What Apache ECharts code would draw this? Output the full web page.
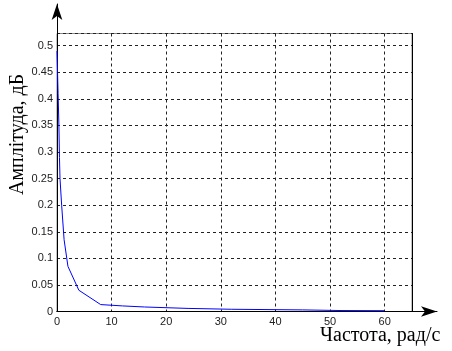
<!DOCTYPE html>
<html><head><meta charset="utf-8">
<script src="https://cdn.jsdelivr.net/npm/echarts@6/dist/echarts.min.js"></script>
<style>html,body{margin:0;padding:0;background:#fff}#c{width:452px;height:351px}</style>
</head><body><div id="c"></div>
<script>
var freq = [0, 0.1, 0.2, 0.35, 0.45, 0.55, 0.85, 1.3, 2, 4, 8, 12, 16, 24, 32, 45, 52, 60];
var ampl = [0.49, 0.45, 0.41, 0.35, 0.29, 0.25, 0.2, 0.135, 0.085, 0.04, 0.013, 0.0105, 0.0085, 0.0058, 0.0042, 0.003, 0.0018, 0.0015];
var xTicks = [0, 10, 20, 30, 40, 50, 60];
var yTicks = [0, 0.05, 0.1, 0.15, 0.2, 0.25, 0.3, 0.35, 0.4, 0.45, 0.5];
var xLabel = 'Частота, рад/с';
var yLabel = 'Амплітуда, дБ';

var chart = echarts.init(document.getElementById('c'), null, {renderer: 'canvas'});
var lab = {color: '#222', fontFamily: 'Liberation Sans, Arial, sans-serif', fontSize: 11};
var split = {show: true, lineStyle: {color: '#222', type: [3, 3], width: 1}};
chart.setOption({
  animation: false,
  grid: [
    {left: 57, right: 40, top: 33.5, bottom: 39.5, show: true, borderColor: '#888', borderWidth: 1},
    {left: 57, right: 15, top: 4, bottom: 39.5, show: false}
  ],
  xAxis: [
    {type: 'value', gridIndex: 0, min: 0, max: 65, interval: 10,
     axisLine: {show: true, lineStyle: {color: '#000', width: 1}},
     axisTick: {show: false},
     axisLabel: Object.assign({margin: 5, showMaxLabel: false,
       formatter: function (v) { return xTicks.indexOf(v) >= 0 ? String(v) : ''; }}, lab),
     splitLine: split},
    {type: 'value', gridIndex: 1, min: 0, max: 1,
     axisLine: {show: true, symbol: ['none', 'arrow'], symbolSize: [8, 16], symbolOffset: [0, 0], lineStyle: {color: '#000', width: 1}},
     axisTick: {show: false}, axisLabel: {show: false}, splitLine: {show: false}}
  ],
  yAxis: [
    {type: 'value', gridIndex: 0, min: 0, max: 0.523, interval: 0.05,
     axisLine: {show: true, lineStyle: {color: '#000', width: 1}},
     axisTick: {show: false},
     axisLabel: Object.assign({margin: 4, showMaxLabel: false,
       formatter: function (v) {
         for (var i = 0; i < yTicks.length; i++) { if (Math.abs(yTicks[i] - v) < 1e-9) return String(yTicks[i]); }
         return '';
       }}, lab),
     splitLine: split},
    {type: 'value', gridIndex: 0, min: 0, max: 0.523, position: 'right',
     axisLine: {show: true, lineStyle: {color: '#000', width: 1}},
     axisTick: {show: false}, axisLabel: {show: false}, splitLine: {show: false}},
    {type: 'value', gridIndex: 1, min: 0, max: 1,
     axisLine: {show: true, symbol: ['none', 'arrow'], symbolSize: [8, 16], lineStyle: {color: '#000', width: 1}},
     axisTick: {show: false}, axisLabel: {show: false}, splitLine: {show: false}}
  ],
  graphic: [
    {type: 'text', left: 320, top: 326, style: {text: xLabel, font: '20px "Liberation Serif", "Times New Roman", serif', fill: '#000'}},
    {type: 'text', x: 8, y: 195, rotation: Math.PI / 2, style: {text: yLabel, font: '20px "Liberation Serif", "Times New Roman", serif', fill: '#000', textVerticalAlign: 'top'}}
  ],
  series: [{
    type: 'line', xAxisIndex: 0, yAxisIndex: 0,
    data: freq.map(function (f, i) { return [f, ampl[i]]; }),
    showSymbol: false, lineStyle: {color: '#0000ff', width: 1}, silent: true
  }]
});
</script></body></html>
